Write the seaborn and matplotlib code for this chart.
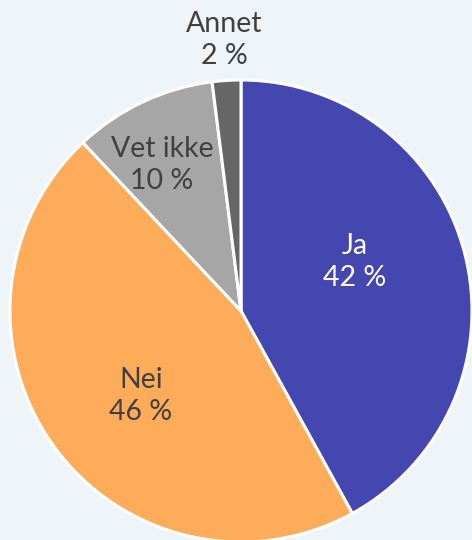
import matplotlib
matplotlib.use('Agg')
import matplotlib.pyplot as plt
import seaborn as sns

sns.set_theme(style='white')
plt.rcParams['font.family'] = ['Lato', 'DejaVu Sans']

labels = ['Ja', 'Nei', 'Vet ikke', 'Annet']
shares = [42, 46, 10, 2]
colors = ['#4447b0', '#ffac5a', '#a6a6a6', '#666666']
text_colors = ['white', '#404040', '#404040', '#404040']
# label positions in pie radius units
label_pos = [(0.494, 0.212), (-0.433, -0.368), (-0.342, 0.632), (-0.074, 1.173)]

bg = '#eff4f9'
fig = plt.figure(figsize=(4.72, 5.40), dpi=100, facecolor=bg)
ax = fig.add_axes([10 / 472, -2 / 540, 462 / 472, 462 / 540])
ax.set_facecolor(bg)

ax.pie(shares, colors=colors, startangle=90, counterclock=False, radius=1,
       wedgeprops=dict(edgecolor='white', linewidth=2.2))
for lab, val, (x, y), tc in zip(labels, shares, label_pos, text_colors):
    ax.text(x, y, f'{lab}\n{val} %', ha='center', va='center', color=tc,
            fontsize=20.5, linespacing=1.32)

ax.set_xlim(-1, 1)
ax.set_ylim(-1, 1)
ax.set_aspect('equal')
ax.axis('off')

fig.savefig('out.png', dpi=100, facecolor=bg)
